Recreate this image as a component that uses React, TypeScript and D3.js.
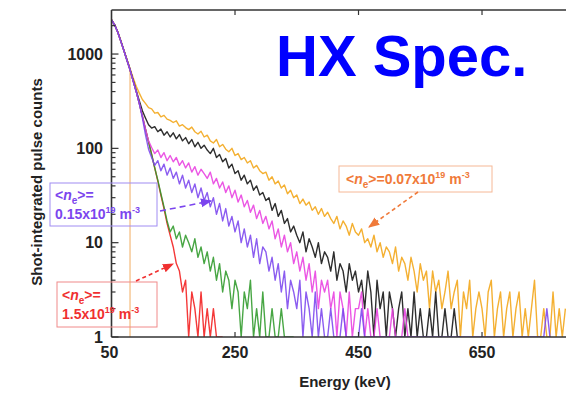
import React from 'react';
import * as d3 from 'd3';

// Energy bins (keV): start and width of each bin
const binStart = 50;
const binWidth = 5;

// Shot-integrated pulse counts per 5 keV bin
const orangeCounts = [
  2300, 2040, 1720, 1390, 1100, 880, 700, 560, 455, 385,
  330, 300, 270, 262, 236, 240, 216, 224, 204, 198,
  188, 196, 172, 178, 166, 158, 168, 150, 142, 152,
  132, 138, 120, 114, 124, 104, 110, 98, 92, 100,
  84, 88, 76, 80, 70, 74, 62, 66, 58, 54,
  56, 46, 50, 42, 45, 38, 41, 33, 36, 30,
  32, 26, 29, 25, 27, 22, 24, 20, 23, 19,
  21, 18, 16, 19, 14, 17, 15, 12, 16, 13,
  12, 14, 10, 11, 9, 12, 8, 10, 7, 9,
  8, 6, 9, 5, 7, 6, 4, 7, 5, 3,
  6, 4, 5, 2, 5, 3, 4, 2, 3, 5,
  2, 3, 4, 1, 3, 2, 4, 1, 2, 3,
  2, 1, 3, 4, 1, 2, 3, 0, 2, 3,
  1, 2, 3, 1, 2, 0, 2, 4, 1, 0,
  2, 1, 0, 3, 1, 2, 0, 2,
];

const blackCounts = [
  2300, 2050, 1720, 1380, 1100, 870, 690, 530, 410, 320,
  250, 210, 178, 164, 170, 150, 160, 138, 150, 132,
  146, 126, 140, 120, 130, 112, 124, 104, 116, 100,
  108, 96, 88, 100, 80, 86, 72, 78, 62, 68,
  54, 58, 46, 52, 42, 46, 36, 40, 32, 34,
  28, 30, 22, 26, 19, 22, 16, 18, 13, 15,
  12, 10, 13, 8, 11, 9, 7, 10, 6, 8,
  7, 5, 8, 4, 6, 5, 3, 6, 4, 5,
  3, 4, 2, 5, 3, 1, 4, 2, 3, 1,
  3, 2, 0, 2, 3, 1, 2, 0, 3, 1,
  2, 0, 1, 2, 0, 3, 1, 0, 2, 1,
  0, 2, 0, 1,
];

const magentaCounts = [
  2300, 2040, 1710, 1370, 1090, 860, 680, 520, 400, 300,
  220, 160, 120, 102, 88, 96, 80, 90, 74, 84,
  72, 80, 66, 74, 62, 70, 56, 64, 52, 60,
  54, 48, 56, 42, 48, 38, 44, 34, 40, 30,
  36, 27, 32, 24, 28, 21, 25, 18, 22, 16,
  19, 14, 17, 11, 14, 9, 12, 8, 10, 6,
  8, 5, 7, 4, 6, 3, 5, 2, 4, 3,
  4, 2, 3, 1, 3, 2, 0, 3, 1, 2,
  2, 3, 0, 2, 1, 0, 2, 1, 0, 1,
  1, 2, 0, 1, 0, 2, 0, 0, 1, 0,
];

const purpleCounts = [
  2300, 2040, 1710, 1370, 1090, 860, 680, 520, 400, 300,
  210, 140, 98, 80, 66, 74, 58, 68, 52, 62,
  48, 56, 42, 52, 38, 46, 34, 42, 30, 38,
  28, 34, 24, 30, 20, 26, 17, 23, 15, 19,
  13, 17, 10, 14, 9, 12, 7, 11, 6, 9,
  8, 5, 7, 4, 6, 3, 5, 2, 4, 3,
  2, 4, 1, 3, 2, 0, 3, 1, 2, 0,
  1, 2, 0, 1, 0, 2, 0, 0, 1, 0,
  0, 2, 0, 0, 1, 0, 0, 0, 0, 0,
  0, 0, 0, 0, 0, 0, 0, 0, 0, 0,
  0, 0, 0, 0, 0, 0, 0, 0, 0, 0,
  0, 0, 0, 0, 0, 0, 0, 0, 0, 0,
  0, 0, 0, 0, 0, 0, 0, 0, 0, 0,
  0, 0, 0, 0, 0, 0, 0, 0, 0, 0,
  0, 2, 0,
];

const greenCounts = [
  2300, 2040, 1710, 1370, 1090, 860, 680, 520, 400, 300,
  220, 160, 118, 86, 62, 46, 33, 24, 17, 13,
  15, 11, 13, 9, 12, 10, 8, 11, 7, 9,
  6, 8, 5, 7, 4, 6, 3, 5, 4, 2,
  4, 3, 1, 3, 2, 4, 1, 2, 0, 3,
  1, 0, 2, 1, 0, 2, 0, 1, 0, 0,
];

const redCounts = [
  2300, 2040, 1710, 1370, 1090, 860, 680, 520, 400, 300,
  220, 160, 118, 86, 62, 45, 32, 23, 16, 12,
  9, 6, 5, 3, 4, 1, 3, 2, 0, 3,
  1, 2, 0, 2, 1, 0, 1,
];

const seriesColors = ['#F2A516', '#111111', '#F21C1C', '#2F9A2A', '#E83FE0', '#7B45EE'];
const seriesData = [orangeCounts, blackCounts, redCounts, greenCounts, magentaCounts, purpleCounts];

const xTicks = [50, 250, 450, 650];
const yTicks = [1, 10, 100, 1000];

// cut-off energy marker (keV) and the counts where it meets the spectra
const cutoffEnergy = 80;
const cutoffCounts = 690;

export default function App() {
  const width = 566;
  const height = 395;
  const left = 111.5;
  const right = 566;
  const top = 10;
  const bottom = 337;

  const x = d3.scaleLinear().domain([50, 786]).range([left, right]);
  const y = d3.scaleLog().domain([1, 2930]).range([bottom, top]);

  const line = d3.line<number>()
    .x((_, i) => x(binStart + binWidth * i))
    .y(d => y(Math.max(d, 1)));

  const minorTicks: number[] = [];
  [1, 10, 100, 1000].forEach(dec => {
    for (let m = 2; m <= 9; m++) {
      if (dec * m <= 2930) minorTicks.push(dec * m);
    }
  });

  const font = '"Liberation Sans", Arial, sans-serif';
  const sub = { fontSize: 10 };
  const sup = { fontSize: 9 };

  return (
    <svg width={width} height={height} style={{ position: 'absolute', left: 0, top: 0, background: '#fff' }}
      fontFamily={font}>
      <defs>
        <clipPath id="plot-clip">
          <rect x={left} y={top} width={right - left} height={bottom - top} />
        </clipPath>
        {['#7B45EE', '#F03030', '#F07A3A'].map((c, i) => (
          <marker key={i} id={`arrow-${i}`} viewBox="0 0 10 10" refX="9" refY="5"
            markerWidth="7" markerHeight="7" orient="auto-start-reverse">
            <path d="M0,1 L10,5 L0,9 z" fill={c} />
          </marker>
        ))}
      </defs>

      {/* cut-off energy marker */}
      <line x1={x(cutoffEnergy)} x2={x(cutoffEnergy)} y1={y(cutoffCounts)} y2={bottom}
        stroke="#F6C48E" strokeWidth={1.4} />

      <g clipPath="url(#plot-clip)">
        {seriesData.map((s, i) => (
          <path key={i} d={line(s) || ''} fill="none" stroke={seriesColors[i]}
            strokeWidth={1.4} strokeOpacity={0.88} strokeLinejoin="round" />
        ))}
      </g>

      {/* frame */}
      <g stroke="#333" strokeWidth={1.6} fill="none">
        <line x1={left} x2={right} y1={top} y2={top} />
        <line x1={left} x2={right} y1={bottom} y2={bottom} />
        <line x1={left} x2={left} y1={top} y2={bottom} />
      </g>
      <g stroke="#333" strokeWidth={1.2}>
        {yTicks.map(t => <line key={t} x1={left} x2={left + 7} y1={y(t)} y2={y(t)} />)}
        {minorTicks.map(t => <line key={t} x1={left} x2={left + 4} y1={y(t)} y2={y(t)} />)}
        {xTicks.slice(1).map(t => (
          <g key={t}>
            <line x1={x(t)} x2={x(t)} y1={top} y2={top + 5} />
            <line x1={x(t)} x2={x(t)} y1={bottom} y2={bottom - 5} />
          </g>
        ))}
      </g>

      {/* tick labels */}
      <g fontSize={16} fontWeight="bold" fill="#222">
        {yTicks.map(t => (
          <text key={t} x={103} y={y(t)} dy="0.35em" textAnchor="end">{t}</text>
        ))}
        {xTicks.map(t => (
          <text key={t} x={x(t) - (t === 50 ? 2 : 0)} y={358} textAnchor="middle">{t}</text>
        ))}
      </g>

      <text x={345} y={387} textAnchor="middle" fontSize={15} fontWeight="bold" fill="#222">Energy (keV)</text>
      <text transform="translate(42,182) rotate(-90)" textAnchor="middle" fontSize={15} fontWeight="bold"
        fill="#222">Shot-integrated pulse counts</text>

      <text x={276} y={76} fontSize={58} fontWeight="bold" fill="#0000FF">HX Spec.</text>

      {/* purple annotation */}
      <rect x={50} y={183} width={107} height={43} fill="none" stroke="#A08CF2" strokeWidth={1} />
      <text fontSize={14} fontWeight="bold" fill="#7B45EE">
        <tspan x={55} y={200}>{'<'}</tspan><tspan fontStyle="italic">n</tspan>
        <tspan dy={4} style={sub}>e</tspan><tspan dy={-4}>{'>='}</tspan>
        <tspan x={55} y={219}>0.15x10</tspan><tspan dy={-6} style={sup}>19</tspan>
        <tspan dy={6}> m</tspan><tspan dy={-6} style={sup}>-3</tspan>
      </text>
      <line x1={160} y1={211} x2={211} y2={201} stroke="#7B45EE" strokeWidth={1.6}
        strokeDasharray="6,4" markerEnd="url(#arrow-0)" />

      {/* red annotation */}
      <rect x={57} y={282} width={100} height={45} fill="none" stroke="#F08A8A" strokeWidth={1} />
      <text fontSize={14} fontWeight="bold" fill="#F03030">
        <tspan x={62} y={300}>{'<'}</tspan><tspan fontStyle="italic">n</tspan>
        <tspan dy={4} style={sub}>e</tspan><tspan dy={-4}>{'>='}</tspan>
        <tspan x={62} y={319}>1.5x10</tspan><tspan dy={-6} style={sup}>19</tspan>
        <tspan dy={6}> m</tspan><tspan dy={-6} style={sup}>-3</tspan>
      </text>
      <line x1={136} y1={281} x2={173} y2={264} stroke="#F03030" strokeWidth={1.6}
        strokeDasharray="4,3" markerEnd="url(#arrow-1)" />

      {/* orange annotation */}
      <rect x={339} y={166} width={153} height={26} fill="none" stroke="#F6B896" strokeWidth={1} />
      <text fontSize={14} fontWeight="bold" fill="#F07A3A">
        <tspan x={346} y={184}>{'<'}</tspan><tspan fontStyle="italic">n</tspan>
        <tspan dy={4} style={sub}>e</tspan><tspan dy={-4}>{'>=0.07x10'}</tspan>
        <tspan dy={-6} style={sup}>19</tspan>
        <tspan dy={6}> m</tspan><tspan dy={-6} style={sup}>-3</tspan>
      </text>
      <line x1={418} y1={192} x2={369} y2={227} stroke="#F07A3A" strokeWidth={1.6}
        strokeDasharray="4,3" markerEnd="url(#arrow-2)" />
    </svg>
  );
}
